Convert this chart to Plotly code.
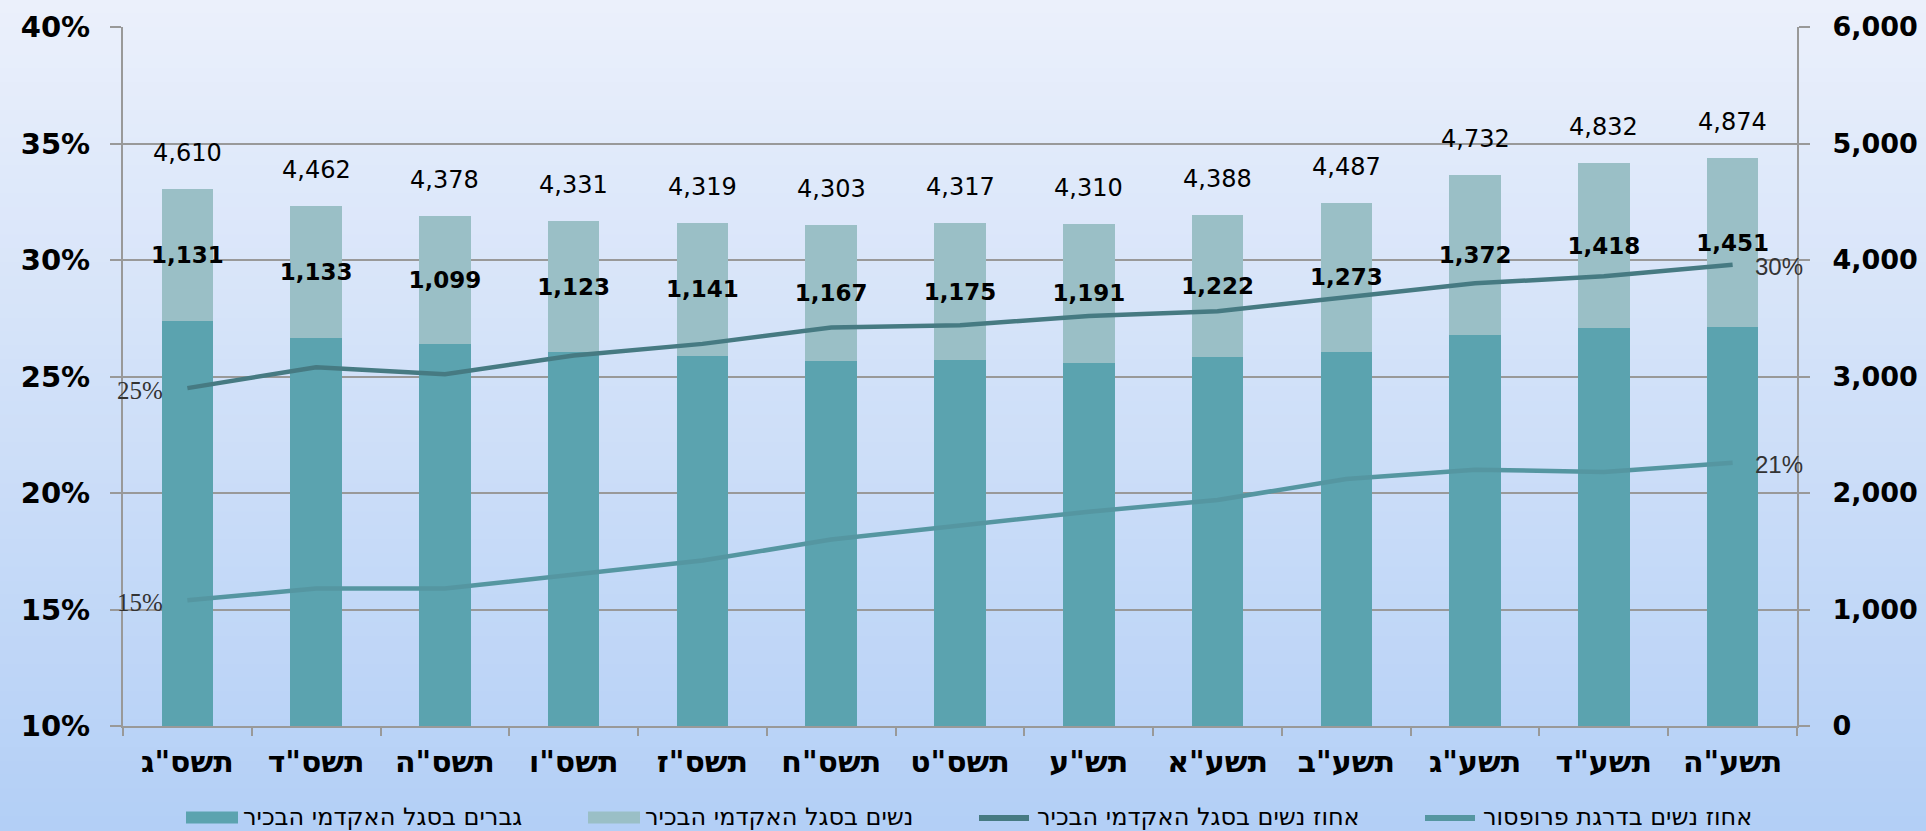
import plotly.graph_objects as go

years = ['תשס"ג', 'תשס"ד', 'תשס"ה', 'תשס"ו', 'תשס"ז', 'תשס"ח', 'תשס"ט',
         'תש"ע', 'תשע"א', 'תשע"ב', 'תשע"ג', 'תשע"ד', 'תשע"ה']
totals = [4610, 4462, 4378, 4331, 4319, 4303, 4317, 4310, 4388, 4487, 4732, 4832, 4874]
women = [1131, 1133, 1099, 1123, 1141, 1167, 1175, 1191, 1222, 1273, 1372, 1418, 1451]
men = [3479, 3329, 3279, 3208, 3178, 3136, 3142, 3119, 3166, 3214, 3360, 3414, 3423]
pct_women_senior = [24.5, 25.4, 25.1, 25.9, 26.4, 27.1, 27.2, 27.6, 27.8, 28.4, 29.0, 29.3, 29.8]
pct_women_prof = [15.4, 15.9, 15.9, 16.5, 17.1, 18.0, 18.6, 19.2, 19.7, 20.6, 21.0, 20.9, 21.3]
senior_end_labels = ['25%', '30%']
prof_end_labels = ['15%', '21%']

names = ['גברים בסגל האקדמי הבכיר', 'נשים בסגל האקדמי הבכיר',
         'אחוז נשים בסגל האקדמי הבכיר', 'אחוז נשים בדרגת פרופסור']

C_MEN = '#5ba3af'
C_WOMEN = '#9abfc6'
C_DARK = '#467a82'
C_LIGHT = '#5596a1'
GRID = '#999999'
FONT = 'DejaVu Sans'

W, H = 1926, 831
pl, pr, pt, pb = 123, 129, 27, 105
pw, ph = W - pl - pr, H - pt - pb


def px_x(x):
    return (x - pl) / pw


def px_y(y):
    return (H - pb - y) / ph


fig = go.Figure()
fig.add_trace(go.Bar(x=years, y=men, name=names[0], marker=dict(color=C_MEN, line=dict(width=0)),
                     yaxis='y', showlegend=False))
fig.add_trace(go.Bar(x=years, y=women, name=names[1], marker=dict(color=C_WOMEN, line=dict(width=0)),
                     text=[f'{v:,}' for v in women], textposition='inside', insidetextanchor='middle',
                     constraintext='none', textangle=0,
                     textfont=dict(family=FONT, size=23, color='black', weight='bold'),
                     yaxis='y', showlegend=False))
fig.add_trace(go.Scatter(x=years, y=pct_women_senior, name=names[2], mode='lines',
                         line=dict(color=C_DARK, width=4.5), yaxis='y2', showlegend=False))
fig.add_trace(go.Scatter(x=years, y=pct_women_prof, name=names[3], mode='lines',
                         line=dict(color=C_LIGHT, width=4.5), yaxis='y2', showlegend=False))

annotations = []
for yr, tot in zip(years, totals):
    annotations.append(dict(x=yr, y=tot, xref='x', yref='y', text=f'{tot:,}', showarrow=False,
                            yanchor='bottom', yshift=20,
                            font=dict(family=FONT, size=24, color='black')))

for series, labels in ((pct_women_senior, senior_end_labels), (pct_women_prof, prof_end_labels)):
    annotations.append(dict(x=years[0], y=series[0], xref='x', yref='y2', text=labels[0],
                            showarrow=False, xanchor='right', yanchor='middle', xshift=-22, yshift=-2,
                            font=dict(family='Liberation Serif', size=25, color='#333333')))
    annotations.append(dict(x=years[-1], y=series[-1], xref='x', yref='y2', text=labels[1],
                            showarrow=False, xanchor='left', yanchor='middle', xshift=20, yshift=-2,
                            font=dict(family='Liberation Sans', size=24, color='#333333')))

# vertical background gradient
shapes = []
N = 60
top = (235, 240, 251)
bot = (179, 207, 246)
for i in range(N):
    f = (i + 0.5) / N
    c = tuple(round(top[k] + (bot[k] - top[k]) * f) for k in range(3))
    shapes.append(dict(type='rect', xref='paper', yref='paper', layer='below',
                       x0=px_x(-5), x1=px_x(W + 5),
                       y0=px_y(H * (i + 1) / N + 1), y1=px_y(H * i / N - 1),
                       fillcolor='rgb(%d,%d,%d)' % c, line=dict(width=0)))

# legend (drawn to match the reference's wide swatches)
leg_y = 817
swatches = [(186, 238, 'bar', C_MEN), (588, 640, 'bar', C_WOMEN),
            (976, 1032, 'line', C_DARK), (1422, 1478, 'line', C_LIGHT)]
for (x0, x1, kind, col), nm in zip(swatches, names):
    if kind == 'bar':
        shapes.append(dict(type='rect', xref='paper', yref='paper', layer='above',
                           x0=px_x(x0), x1=px_x(x1), y0=px_y(leg_y + 6.5), y1=px_y(leg_y - 5.5),
                           fillcolor=col, line=dict(width=0)))
    else:
        shapes.append(dict(type='line', xref='paper', yref='paper', layer='above',
                           x0=px_x(x0 + 3), x1=px_x(x1 - 3), y0=px_y(leg_y + 1), y1=px_y(leg_y + 1),
                           line=dict(color=col, width=6)))
    annotations.append(dict(x=px_x(x1 + 3), y=px_y(leg_y), xref='paper', yref='paper', text=nm,
                            showarrow=False, xanchor='left', yanchor='middle',
                            font=dict(family='DejaVu Sans', size=24, color='black')))

fig.update_layout(
    width=W, height=H,
    margin=dict(l=pl, r=pr, t=pt, b=pb, autoexpand=False),
    barmode='stack', bargap=0.6,
    paper_bgcolor='rgb(200,218,247)', plot_bgcolor='rgba(0,0,0,0)',
    font=dict(family=FONT, color='black'),
    shapes=shapes,
    annotations=annotations,
    showlegend=False,
    xaxis=dict(range=[-0.5, len(years) - 0.5], showline=True, linecolor=GRID, linewidth=2,
               ticks='outside', tickson='boundaries',
               ticklen=8, tickcolor=GRID, tickwidth=2,
               tickfont=dict(family=FONT, size=30, color='black', weight='bold'),
               ticklabelstandoff=8, showgrid=False),
    yaxis=dict(side='right', range=[0, 6000], dtick=1000, tickformat=',',
               showline=True, linecolor=GRID, linewidth=2, ticks='outside', ticklen=11,
               tickcolor=GRID, tickwidth=2, showgrid=True, gridcolor=GRID, gridwidth=2,
               zeroline=False, ticklabelstandoff=17,
               tickfont=dict(family=FONT, size=27, color='black', weight='bold')),
    yaxis2=dict(side='left', overlaying='y', range=[10, 40], dtick=5, ticksuffix='%',
                showline=True, linecolor=GRID, linewidth=2, ticks='outside', ticklen=11,
                tickcolor=GRID, tickwidth=2, showgrid=False, zeroline=False, ticklabelstandoff=14,
                tickfont=dict(family=FONT, size=29, color='black', weight='bold')),
)

fig.write_html('out.html', config={'displayModeBar': False},
               post_script="document.body.style.margin='0';document.body.style.overflow='hidden';")
